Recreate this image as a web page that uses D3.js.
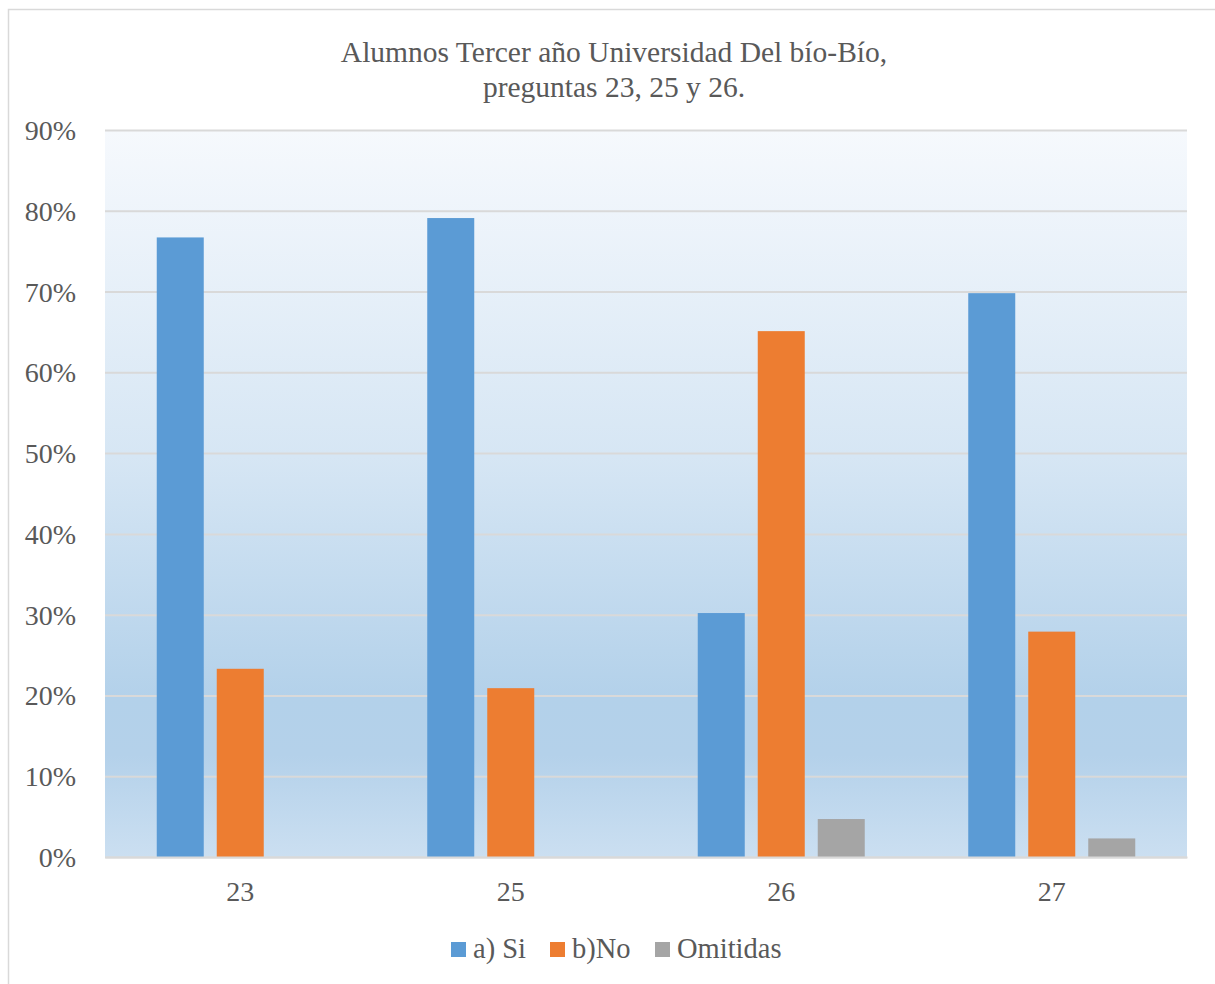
<!DOCTYPE html>
<html><head><meta charset="utf-8">
<script src="https://cdn.jsdelivr.net/npm/d3@7"></script>
<style>
html,body{margin:0;padding:0;background:#fff;}
svg{display:block;font-family:"Liberation Serif","Times New Roman",serif;}
</style></head>
<body>
<svg id="chart" width="1215" height="984"></svg>
<script>
const categories = ["23","25","26","27"];
const seriesNames = ["a) Si","b)No","Omitidas"];
const siValues = [0.767, 0.791, 0.302, 0.698];
const noValues = [0.233, 0.209, 0.651, 0.279];
const omitValues = [0, 0, 0.047, 0.023];
const yTicks = [0,0.1,0.2,0.3,0.4,0.5,0.6,0.7,0.8,0.9];
const titleLines = ["Alumnos Tercer año Universidad Del bío-Bío,","preguntas 23, 25 y 26."];
const colors = ["#5b9bd5","#ed7d31","#a5a5a5"];

const FONT = '"Liberation Serif","Times New Roman",serif';
const series = [siValues, noValues, omitValues];
const svg = d3.select("#chart");
const m = {left:105, right:1187, top:130, bottom:857};

// frame
svg.append("rect").attr("x",8.5).attr("y",9.5).attr("width",1230).attr("height",1000)
  .attr("fill","#fff").attr("stroke","#d9d9d9").attr("stroke-width",1.5);

// gradient
const defs = svg.append("defs");
const g = defs.append("linearGradient").attr("id","bg").attr("x1",0).attr("y1",0).attr("x2",0).attr("y2",1);
[[0,"#f6f9fd"],[0.45,"#d6e6f4"],[0.78,"#b3d1ea"],[0.86,"#b4d1ea"],[1,"#cbdff1"]]
  .forEach(([o,c])=>g.append("stop").attr("offset",o).attr("stop-color",c));

const x = d3.scaleBand().domain(categories).range([m.left,m.right]).paddingInner(0).paddingOuter(0);
const y = d3.scaleLinear().domain([0,0.9]).range([m.bottom,m.top]);
const half = x.bandwidth()/2;
const x1 = d3.scaleBand().domain(d3.range(3)).range([half-83.5, half+83.5]).paddingInner(13/60).paddingOuter(0);

svg.append("rect").attr("x",m.left).attr("y",m.top).attr("width",m.right-m.left).attr("height",m.bottom-m.top)
  .attr("fill","url(#bg)");

// gridlines
const yAxis = d3.axisLeft(y).tickValues(yTicks).tickFormat(d3.format(".0%")).tickSize(-(m.right-m.left)).tickPadding(29);
const ya = svg.append("g").attr("transform",`translate(${m.left},0)`).call(yAxis)
  .attr("font-family",FONT).attr("font-size",28);
ya.select(".domain").remove();
ya.selectAll("line").attr("stroke","#d9d9d9").attr("stroke-width",2);
ya.selectAll("text").attr("fill","#595959").attr("dy","0.34em");

// bars
categories.forEach((c,i)=>{
  series.forEach((s,j)=>{
    if(s[i] <= 0) return;
    svg.append("rect")
      .attr("x", x(c)+x1(j)).attr("y", y(s[i]))
      .attr("width", x1.bandwidth()).attr("height", y(0)-y(s[i]))
      .attr("fill", colors[j]);
  });
});

// x axis
const xAxis = d3.axisBottom(x).tickSize(0).tickPadding(24);
const xa = svg.append("g").attr("transform",`translate(0,${m.bottom})`).call(xAxis)
  .attr("font-family",FONT).attr("font-size",28);
xa.select(".domain").attr("stroke","#d9d9d9").attr("stroke-width",2);
xa.selectAll("text").attr("fill","#595959");

// title
svg.append("text").attr("text-anchor","middle").attr("fill","#595959").style("font-size","29.5px")
  .selectAll("tspan").data(titleLines).join("tspan")
  .attr("x",614).attr("y",(d,i)=>62+i*35).text(d=>d);

// legend
const legX = [451,550,655];
seriesNames.forEach((n,j)=>{
  svg.append("rect").attr("x",legX[j]).attr("y",942).attr("width",15).attr("height",15).attr("fill",colors[j]);
  svg.append("text").attr("x",legX[j]+22).attr("y",958).attr("fill","#595959").style("font-size","28.5px").text(n);
});
</script>
</body></html>
